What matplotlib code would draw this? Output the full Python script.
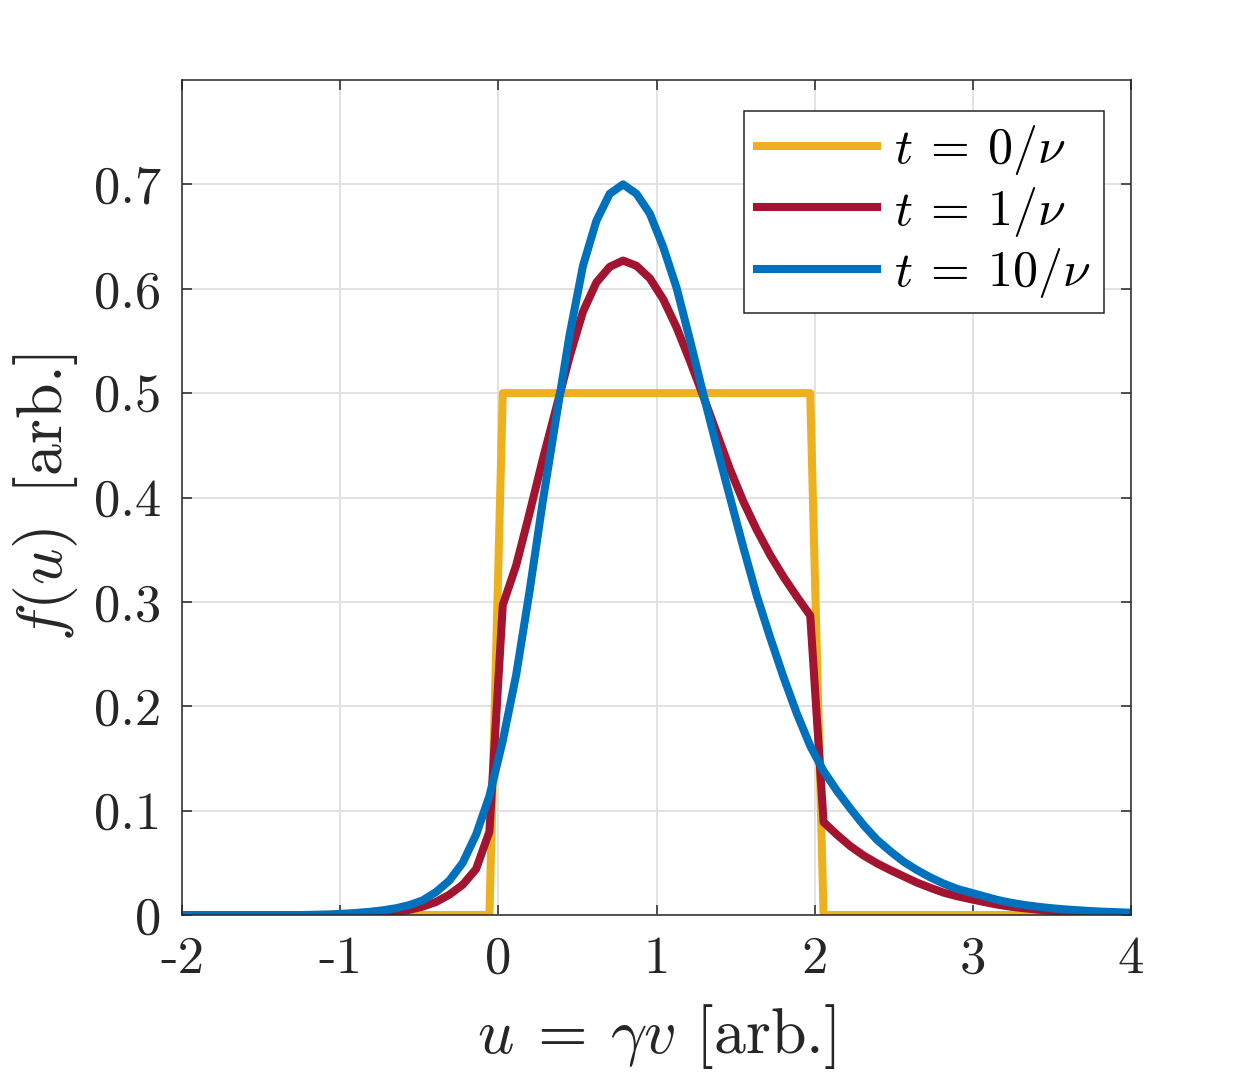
import numpy as np
import matplotlib
matplotlib.use("Agg")
import matplotlib.pyplot as plt

plt.rcParams['mathtext.fontset'] = 'cm'
plt.rcParams['font.family'] = 'serif'
plt.rcParams['font.serif'] = ['cmr10']
plt.rcParams['axes.unicode_minus'] = False
plt.rcParams['axes.formatter.use_mathtext'] = True

# sampling grid in u (72 points from -2 to 4)
u = np.linspace(-2, 4, 72)

f_t0 = [0.0, 0.0, 0.0, 0.0, 0.0, 0.0, 0.0, 0.0, 0.0, 0.0, 0.0, 0.0,
        0.0, 0.0, 0.0, 0.0, 0.0, 0.0, 0.0, 0.0, 0.0, 0.0, 0.0, 0.0,
        0.5, 0.5, 0.5, 0.5, 0.5, 0.5, 0.5, 0.5, 0.5, 0.5, 0.5, 0.5,
        0.5, 0.5, 0.5, 0.5, 0.5, 0.5, 0.5, 0.5, 0.5, 0.5, 0.5, 0.5,
        0.0, 0.0, 0.0, 0.0, 0.0, 0.0, 0.0, 0.0, 0.0, 0.0, 0.0, 0.0,
        0.0, 0.0, 0.0, 0.0, 0.0, 0.0, 0.0, 0.0, 0.0, 0.0, 0.0, 0.0]

f_t1 = [0.0, 0.0, 0.0, 0.0, 0.0, 0.0, 0.0, 0.0, 0.0, 0.0, 0.0, 0.0001,
        0.0003, 0.0006, 0.001, 0.0018, 0.003, 0.005, 0.008, 0.0125, 0.0195, 0.029, 0.044, 0.080,
        0.297, 0.335, 0.385, 0.437, 0.486, 0.535, 0.578, 0.606, 0.621, 0.627, 0.622, 0.610,
        0.590, 0.563, 0.531, 0.497, 0.462, 0.427, 0.396, 0.369, 0.345, 0.324, 0.305, 0.287,
        0.089, 0.077, 0.066, 0.057, 0.0495, 0.043, 0.037, 0.031, 0.026, 0.0214, 0.018, 0.0152,
        0.0125, 0.010, 0.008, 0.0065, 0.0052, 0.0042, 0.0034, 0.0027, 0.0022, 0.0018, 0.0014, 0.0011]

f_t10 = [0.0, 0.0, 0.0, 0.0, 0.0, 0.0, 0.0, 0.0, 0.0, 0.0, 0.0003, 0.0006,
         0.0012, 0.002, 0.003, 0.0045, 0.0065, 0.0095, 0.014, 0.022, 0.033, 0.050, 0.077, 0.114,
         0.167, 0.230, 0.310, 0.397, 0.477, 0.556, 0.622, 0.665, 0.691, 0.700, 0.691, 0.672,
         0.640, 0.601, 0.551, 0.499, 0.449, 0.400, 0.352, 0.306, 0.266, 0.228, 0.193, 0.162,
         0.138, 0.119, 0.102, 0.086, 0.072, 0.061, 0.051, 0.043, 0.036, 0.030, 0.025, 0.0215,
         0.018, 0.0145, 0.0118, 0.0097, 0.008, 0.0066, 0.0055, 0.0046, 0.0038, 0.0032, 0.0027, 0.0022]

labels = [r'$t\:=\:0/\nu$', r'$t\:=\:1/\nu$', r'$t\:=\:10/\nu$']
colors = ['#EDB120', '#A2142F', '#0072BD']

x_ticks = [-2, -1, 0, 1, 2, 3, 4]
x_ticklabels = ['-2', '-1', '0', '1', '2', '3', '4']
y_ticks = [0, 0.1, 0.2, 0.3, 0.4, 0.5, 0.6, 0.7]
y_ticklabels = ['0', '0.1', '0.2', '0.3', '0.4', '0.5', '0.6', '0.7']

fs_tick = 38
fs_label = 46
fs_leg = 36
axcol = '#262626'

fig = plt.figure(figsize=(12.5, 10.75), dpi=100)
ax = fig.add_axes([0.1456, 0.1488, 0.7592, 0.7768])

for f, lab, c in zip([f_t0, f_t1, f_t10], labels, colors):
    ax.plot(u, f, color=c, lw=5.8, label=lab, solid_joinstyle='round')

ax.set_xlim(-2, 4)
ax.set_ylim(0, 0.8)
ax.set_xticks(x_ticks)
ax.set_xticklabels(x_ticklabels)
ax.set_yticks(y_ticks)
ax.set_yticklabels(y_ticklabels)
ax.grid(True, color='#dfdfdf', lw=1.3)
ax.set_axisbelow(True)
ax.tick_params(direction='in', length=7, width=1.1, colors=axcol,
               labelsize=fs_tick, top=True, right=True, pad=15)
for s in ax.spines.values():
    s.set_color(axcol)
    s.set_linewidth(1.1)

ax.set_xlabel(r'$u\:=\:\gamma v$ [arb.]', fontsize=fs_label, color=axcol, labelpad=14)
ax.set_ylabel(r'$f(u)\,$ [arb.]', fontsize=fs_label, color=axcol, labelpad=10)

leg = ax.legend(loc='upper right', bbox_to_anchor=(0.9715, 0.963),
                borderaxespad=0, fancybox=False, fontsize=fs_leg,
                handlelength=2.4, handletextpad=0.35, labelspacing=0.15,
                borderpad=0.25, framealpha=1)
leg.get_frame().set_edgecolor(axcol)
leg.get_frame().set_linewidth(1.1)

fig.savefig('out.png', dpi=100)
